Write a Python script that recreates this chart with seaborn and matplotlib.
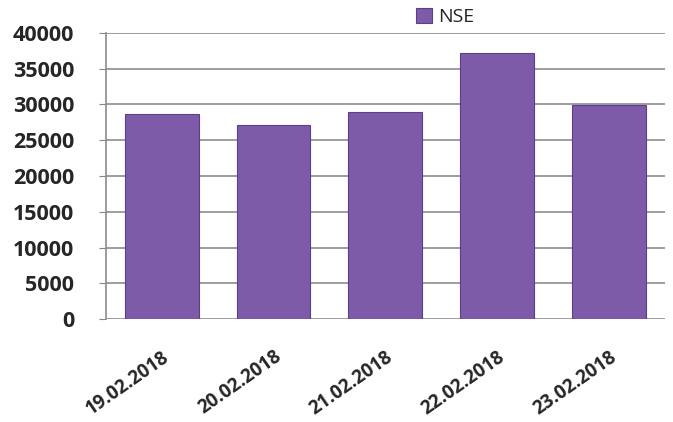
import pandas as pd
import seaborn as sns
import matplotlib.pyplot as plt

dates = ["19.02.2018", "20.02.2018", "21.02.2018", "22.02.2018", "23.02.2018"]
nse = [28600, 27100, 28900, 37200, 29900]
yticks = [0, 5000, 10000, 15000, 20000, 25000, 30000, 35000, 40000]

df = pd.DataFrame({"date": dates, "NSE": nse})

sns.set_style("white")
plt.rcParams['font.family'] = ['Open Sans', 'DejaVu Sans']

fig = plt.figure(figsize=(6.73, 4.22), dpi=100)
ax = fig.add_axes([0.1575, 0.244, 0.83, 0.678])

sns.barplot(data=df, x="date", y="NSE", ax=ax, color="#7D5BA8", width=0.66,
            edgecolor="#5A3F8A", linewidth=0.8, saturation=1, label="NSE", zorder=3)

ax.set_ylim(0, 40000)
ax.set_yticks(yticks)
ax.set_yticklabels([str(v) for v in yticks], fontsize=15.5, fontweight="bold")
ax.set_xlim(-0.5, 4.5)
ax.set_xlabel("")
ax.set_ylabel("")
for lbl in ax.get_xticklabels():
    lbl.set_rotation(35)
    lbl.set_ha("right")
    lbl.set_rotation_mode("anchor")
    lbl.set_fontsize(13.5)
    lbl.set_fontweight("bold")
ax.tick_params(axis="x", length=0, pad=20)
ax.tick_params(axis="y", length=5, color="#888888", left=True, pad=18, direction="out")

ax.yaxis.grid(True, color="#8C8C8C", linewidth=1.2, zorder=0)
ax.set_axisbelow(True)
for s in ["top", "right", "bottom"]:
    ax.spines[s].set_visible(False)
ax.spines["left"].set_color("#8C8C8C")
ax.spines["left"].set_linewidth(1.2)

ax.legend(loc="lower left", bbox_to_anchor=(0.538, 0.99), frameon=False, fontsize=14,
          handlelength=0.8, handleheight=0.8, handletextpad=0.3, borderpad=0)

plt.savefig("out.png", dpi=100)
